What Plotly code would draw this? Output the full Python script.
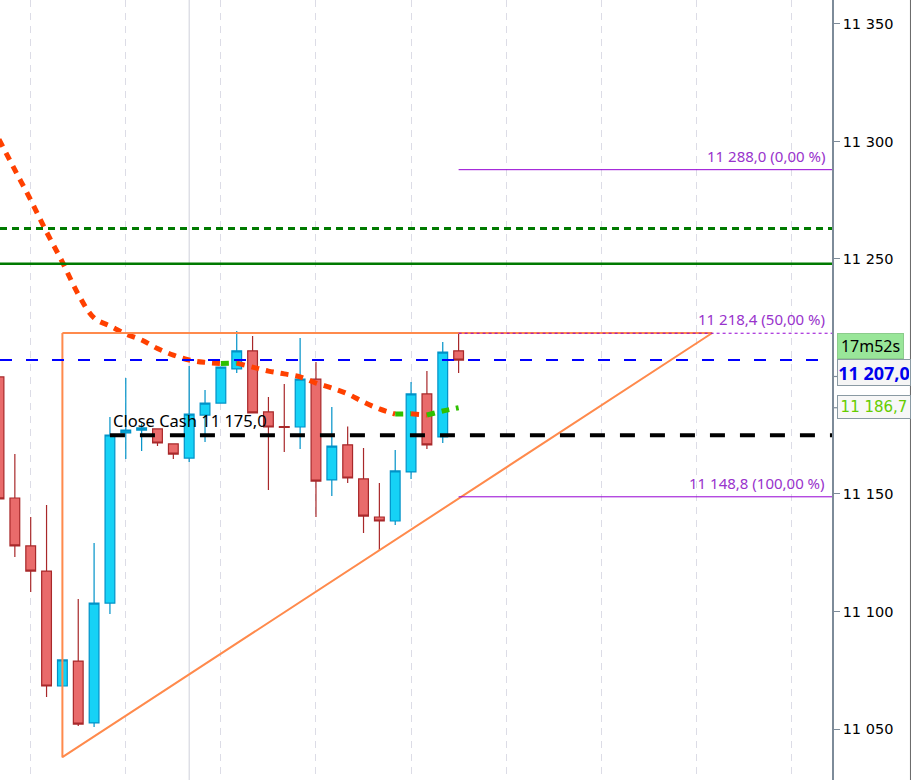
import plotly.graph_objects as go

# candle index -> OHLC
candle_idx = list(range(30))
open_ = [11199.8, 11148.3, 11127.9, 11117.2, 11068.3, 11078.9, 11052.6, 11103.6, 11176.0, 11177.2,
         11177.7, 11171.3, 11165.3, 11183.6, 11188.7, 11203.2, 11210.9, 11184.9, 11178.7, 11178.5,
         11198.9, 11156.0, 11170.9, 11156.4, 11140.2, 11138.5, 11159.4, 11192.6, 11174.3, 11210.9]
high = [11203.0, 11167.0, 11140.2, 11145.3, 11079.4, 11105.3, 11129.1, 11182.8, 11199.4, 11180.0,
        11178.0, 11171.5, 11204.5, 11194.3, 11204.0, 11219.4, 11217.2, 11191.3, 11196.8, 11216.4,
        11206.2, 11187.0, 11178.7, 11169.6, 11154.7, 11168.7, 11197.7, 11202.3, 11214.7, 11218.5]
low = [11145.0, 11123.2, 11108.3, 11063.6, 11068.3, 11051.3, 11050.9, 11098.9, 11164.9, 11168.3,
       11170.4, 11164.9, 11163.6, 11172.1, 11188.7, 11201.5, 11184.5, 11151.7, 11167.9, 11169.1,
       11140.2, 11149.1, 11154.7, 11133.4, 11126.2, 11136.8, 11156.4, 11169.1, 11171.7, 11201.5]
close = [11147.9, 11127.9, 11117.2, 11068.3, 11079.4, 11052.1, 11103.6, 11175.1, 11177.2, 11178.1,
         11171.7, 11167.0, 11184.0, 11188.7, 11204.0, 11210.9, 11184.5, 11178.5, 11178.3, 11198.9,
         11155.5, 11170.4, 11156.8, 11140.6, 11138.5, 11159.8, 11192.6, 11170.9, 11210.4, 11207.0]

# moving average (red when falling, green when rising)
ma = [11300.9, 11287.9, 11275.1, 11261.5, 11248.7, 11235.0, 11224.9, 11221.5, 11218.1, 11215.5,
      11211.9, 11209.1, 11207.0, 11206.0, 11205.5, 11205.7, 11204.0, 11202.3, 11201.1, 11199.8,
      11197.2, 11195.1, 11192.6, 11189.1, 11186.2, 11184.0, 11184.1, 11183.6, 11185.3, 11186.7]

last_price = 11207.0
close_cash = 11175.0
green_dotted = 11263.0
green_solid = 11248.0
fib_levels = [11288.0, 11218.4, 11148.8]
fib_pcts = [0.0, 50.0, 100.0]
fib_start = 29

tri_x = [4, 45, 4, 4]
tri_y = [11218.5, 11218.5, 11038.0, 11218.5]

timer_text = "17m52s"

# axis labels (11 200 sits under the price box, so only its tick is shown)
y_ticks = [11050, 11100, 11150, 11250, 11300, 11350]

x_range = [0.063, 52.56]
y_range = [11028.3, 11360.2]


def fr(v, d=1):
    s = f"{v:,.{d}f}"
    return s.replace(",", " ").replace(".", ",")


fig = go.Figure()

# moving average, split by slope
runs = []
for i in range(len(ma) - 1):
    col = "#2fc000" if ma[i + 1] >= ma[i] else "#ff4000"
    if runs and runs[-1][0] == col:
        runs[-1][1].append(i + 1)
    else:
        runs.append([col, [i, i + 1]])
for col, idx in runs:
    fig.add_trace(go.Scatter(
        x=[candle_idx[k] for k in idx], y=[ma[k] for k in idx],
        mode="lines", line=dict(color=col, width=5, dash="8px,7px", shape="spline"),
        hoverinfo="skip", showlegend=False))

# triangle
fig.add_trace(go.Scatter(
    x=tri_x, y=tri_y, mode="lines",
    line=dict(color="#ff8a4c", width=2), hoverinfo="skip", showlegend=False))

fig.add_trace(go.Candlestick(
    x=candle_idx, open=open_, high=high, low=low, close=close,
    increasing=dict(line=dict(color="#0092c8", width=1.2), fillcolor="#16d2f6"),
    decreasing=dict(line=dict(color="#a8282a", width=1.2), fillcolor="#e96b6b"),
    whiskerwidth=0, showlegend=False))

# horizontal levels
fig.add_shape(type="line", xref="paper", x0=0, x1=1, y0=green_dotted, y1=green_dotted,
              line=dict(color="#007a00", width=3, dash="7px,5px"))
fig.add_shape(type="line", xref="paper", x0=0, x1=1, y0=green_solid, y1=green_solid,
              line=dict(color="#007a00", width=2.5))
fig.add_shape(type="line", xref="paper", x0=0, x1=1, y0=last_price, y1=last_price,
              line=dict(color="#0000ff", width=2, dash="12px,14px"))
fig.add_shape(type="line", xref="x", x0=7, x1=x_range[1], y0=close_cash, y1=close_cash,
              line=dict(color="black", width=4, dash="15px,15px"))

for lv, pc in zip(fib_levels, fib_pcts):
    fig.add_shape(type="line", xref="x", x0=fib_start, x1=x_range[1], y0=lv, y1=lv,
                  line=dict(color="#9400d3", width=1, dash="3px,3px" if pc == 50.0 else "solid"))
    fig.add_annotation(xref="paper", x=0.994, y=lv, xanchor="right", yanchor="bottom",
                       yshift=2, showarrow=False,
                       text=f"{fr(lv)} ({fr(pc, 2)} %)",
                       font=dict(family="Noto Sans", size=15, color="#9933cc"))

# day separator
fig.add_shape(type="line", x0=12, x1=12, yref="paper", y0=0, y1=1,
              line=dict(color="#cfd0da", width=1), layer="below")

fig.add_annotation(x=7.05, y=close_cash, xanchor="left", yanchor="bottom", yshift=1,
                   showarrow=False, text=f"Close Cash {fr(close_cash)}",
                   font=dict(family="Noto Sans", size=16.5, color="black"))

# small axis ticks next to the price labels
for tv in (11200.0, ma[-1]):
    fig.add_shape(type="line", xref="paper", x0=1.0, x1=1.0072, y0=tv, y1=tv,
                  line=dict(color="#7d8b99", width=1.2))

# right-side price labels
fig.add_annotation(xref="paper", x=1.006, y=11212.8, xanchor="left", showarrow=False,
                   text=timer_text, width=63, height=22, bgcolor="#99e699",
                   bordercolor="#8ccc8c", borderwidth=1, borderpad=1,
                   font=dict(family="Noto Sans", size=16, color="black"))
fig.add_annotation(xref="paper", x=1.006, y=11201.5, xanchor="left", showarrow=False,
                   text=f"<b>{fr(last_price)}</b>", width=70, height=23, bgcolor="#f5f5f5",
                   bordercolor="#8a9aa3", borderwidth=1, borderpad=1,
                   font=dict(family="Noto Sans", size=18, color="#0000ee"))
fig.add_annotation(xref="paper", x=1.006, y=11187.0, xanchor="left", showarrow=False,
                   text=fr(ma[-1]), width=70, height=20, bgcolor="#f7f7f7",
                   bordercolor="#8a9aa3", borderwidth=1, borderpad=1,
                   font=dict(family="DejaVu Sans", size=15, color="#66cc00"))

# window border at far right
fig.add_shape(type="line", xref="paper", x0=1.0943, x1=1.0943, yref="paper", y0=0, y1=1,
              line=dict(color="#666666", width=1))

fig.update_layout(
    width=912, height=780,
    margin=dict(l=0, r=80, t=0, b=0),
    plot_bgcolor="white", paper_bgcolor="white",
    separators=", ",
    showlegend=False,
    boxgap=0.12,
    xaxis=dict(range=x_range, rangeslider=dict(visible=False), showticklabels=False,
               showgrid=True, tick0=2, dtick=6, gridcolor="#dcdce6", griddash="7px,6px",
               zeroline=False, showline=False, ticks=""),
    yaxis=dict(range=y_range, side="right", tickvals=y_ticks, tickformat=",.0f",
               showgrid=False, zeroline=False, showline=True, linecolor="#7d8b99",
               linewidth=1.5, ticks="outside", ticklen=6, tickcolor="#7d8b99",
               tickfont=dict(family="DejaVu Sans", size=14.5, color="black")),
)

fig.write_html("out.html", config={"displayModeBar": False},
               post_script="document.body.style.margin='0';")
